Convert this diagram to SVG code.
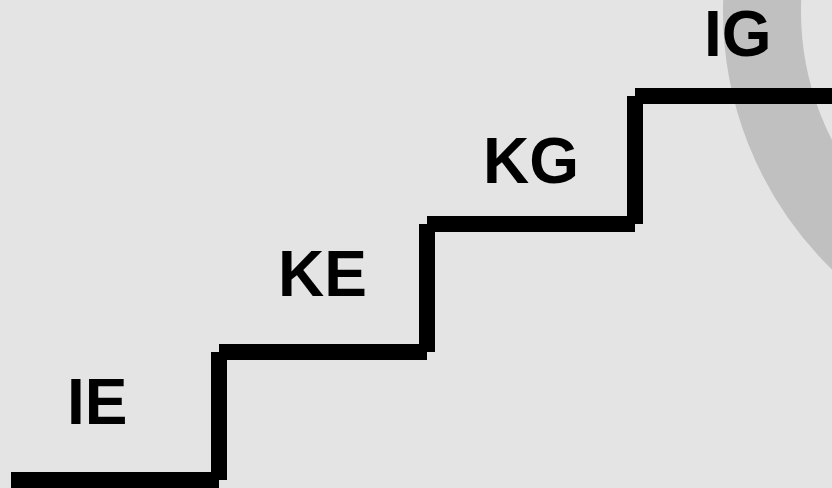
<svg xmlns="http://www.w3.org/2000/svg" width="832" height="488" viewBox="0 0 832 488">
  <style>
    .bar { fill: #000000; }
    .lbl { font-family: "Liberation Sans", Arial, sans-serif; font-weight: bold; font-size: 64px; fill: #000000; }
  </style>
  <rect x="0" y="0" width="832" height="488" fill="#e4e4e4"/>
  <circle cx="1083" cy="11.5" r="321" fill="none" stroke="#c0c0c0" stroke-width="78"/>
  <g id="stairs">
    <rect class="bar" x="11" y="472" width="208" height="16"/>
    <rect class="bar" x="211" y="352" width="16" height="128"/>
    <rect class="bar" x="219" y="344" width="208" height="16"/>
    <rect class="bar" x="419" y="224" width="16" height="128"/>
    <rect class="bar" x="427" y="216" width="208" height="16"/>
    <rect class="bar" x="627" y="96" width="16" height="128"/>
    <rect class="bar" x="635" y="88" width="197" height="16"/>
  </g>
  <g id="IE"><text class="lbl" x="67" y="424">IE</text></g>
  <g id="KE"><text class="lbl" x="278" y="296">KE</text></g>
  <g id="KG"><text class="lbl" x="483" y="183">KG</text></g>
  <g id="IG"><text class="lbl" x="704" y="56">IG</text></g>
</svg>
